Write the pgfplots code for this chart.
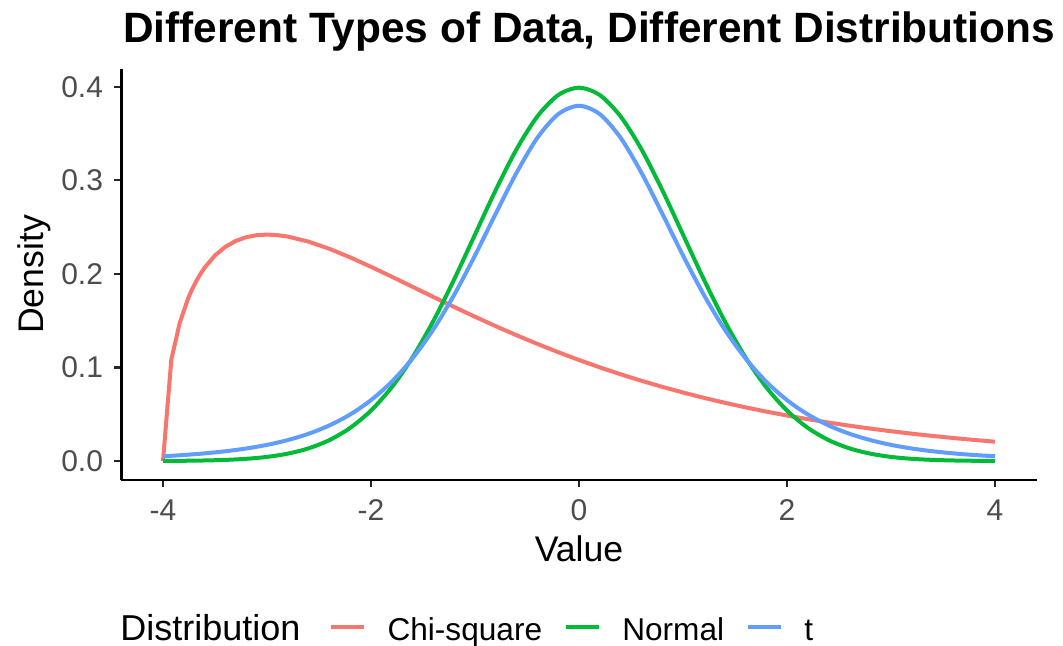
\documentclass[border=0pt]{standalone}
\usepackage{pgfplots}
\pgfplotsset{compat=1.18}
\usepackage{fontspec}
\setmainfont{Liberation Sans}
\definecolor{chisq}{HTML}{F8766D}
\definecolor{normal}{HTML}{00BA38}
\definecolor{tdist}{HTML}{619CFF}
\definecolor{ticktext}{HTML}{4D4D4D}

\begin{document}
\begin{tikzpicture}
\path[use as bounding box] (0,0) rectangle (531.5pt,-322.5pt);
\clip (0,0) rectangle (531.5pt,-322.5pt);
\node[anchor=base west, inner sep=0pt, font=\fontsize{21.2}{25}\selectfont\bfseries]
  at (61.3pt,-21pt) {Different Types of Data, Different Distributions};
\begin{axis}[
  at={(60.7pt,-239.85pt)}, anchor=south west,
  scale only axis, width=457.6pt, height=205.35pt,
  xmin=-4.4, xmax=4.4, ymin=-0.01995, ymax=0.41889,
  axis x line=bottom, axis y line=left,
  axis line style={-, line width=1.1pt, black},
  xtick={-4,-2,0,2,4}, ytick={0,0.1,0.2,0.3,0.4},
  tick align=outside, major tick length=3.5pt,
  tick style={line width=1.1pt, black!85},
  /pgf/number format/assume math mode=true,
  yticklabel style={/pgf/number format/fixed, /pgf/number format/fixed zerofill,
    /pgf/number format/precision=1},
  ticklabel style={font=\fontsize{15}{17}\selectfont, text=ticktext, inner sep=0pt},
  xticklabel style={anchor=base, yshift=-17pt},
  yticklabel style={anchor=east, xshift=-5.5pt},
  xlabel={Value}, ylabel={Density},
  label style={font=\fontsize{17.8}{20}\selectfont, inner sep=0pt},
  xlabel style={at={(axis description cs:0.5,0)}, anchor=base, yshift=-41pt},
  ylabel style={at={(axis description cs:-0.08566,0.5)}, anchor=base},
  legend columns=-1, legend cell align=left,
  legend style={at={(axis description cs:0.2268,-0.3706)}, anchor=west,
    draw=none, fill=none, inner sep=0pt, outer sep=0pt, column sep=10.8pt,
    nodes={inner sep=0pt, font=\fontsize{15.8}{18}\selectfont, text=black,
      text height=11.5pt, text depth=3.4pt}},
  legend image code/.code={\draw[#1] (0pt,2.3pt) -- (16.5pt,2.3pt);},
  every axis plot/.append style={line width=2pt, line join=round},
]
\addplot[chisq] coordinates {
(-4,0) (-3.92,0.10841) (-3.84,0.14731) (-3.76,0.17334) (-3.72,0.18352) (-3.68,0.19231)
(-3.64,0.19993) (-3.6,0.20658) (-3.5,0.21970) (-3.4,0.22893) (-3.3,0.23521) (-3.2,0.23919)
(-3.1,0.24132) (-3,0.24197) (-2.9,0.24140) (-2.8,0.23984) (-2.6,0.23441) (-2.4,0.22674)
(-2.2,0.21761) (-2,0.20755) (-1.8,0.19697) (-1.6,0.18615) (-1.4,0.17531) (-1.2,0.16462)
(-1,0.15418) (-0.8,0.14408) (-0.6,0.13438) (-0.4,0.12512) (-0.2,0.11632) (0,0.10798)
(0.2,0.10012) (0.4,0.09272) (0.6,0.08579) (0.8,0.07929) (1,0.07323) (1.2,0.06757)
(1.4,0.06230) (1.6,0.05741) (1.8,0.05286) (2,0.04865) (2.2,0.04475) (2.4,0.04114)
(2.6,0.03780) (2.8,0.03472) (3,0.03187) (3.2,0.02925) (3.4,0.02683) (3.6,0.02460)
(3.8,0.02255) (4,0.02067)
};
\addlegendentry{Chi-square}
\addplot[normal, smooth] coordinates {
(-4,0.00013) (-3.8,0.00029) (-3.6,0.00061) (-3.4,0.00123) (-3.2,0.00238) (-3,0.00443)
(-2.8,0.00792) (-2.6,0.01358) (-2.4,0.02239) (-2.2,0.03547) (-2,0.05399) (-1.8,0.07895)
(-1.6,0.11092) (-1.4,0.14973) (-1.2,0.19419) (-1,0.24197) (-0.8,0.28969) (-0.6,0.33322)
(-0.4,0.36827) (-0.2,0.39104) (0,0.39894)
(0.2,0.39104) (0.4,0.36827) (0.6,0.33322) (0.8,0.28969) (1,0.24197) (1.2,0.19419)
(1.4,0.14973) (1.6,0.11092) (1.8,0.07895) (2,0.05399) (2.2,0.03547) (2.4,0.02239)
(2.6,0.01358) (2.8,0.00792) (3,0.00443) (3.2,0.00238) (3.4,0.00123) (3.6,0.00061)
(3.8,0.00029) (4,0.00013)
};
\addlegendentry{Normal}
\addplot[tdist, smooth] coordinates {
(-4,0.00512) (-3.8,0.00646) (-3.6,0.00819) (-3.4,0.01045) (-3.2,0.01341) (-3,0.01729)
(-2.8,0.02242) (-2.6,0.02918) (-2.4,0.03809) (-2.2,0.04980) (-2,0.06509) (-1.8,0.08481)
(-1.6,0.10982) (-1.4,0.14074) (-1.2,0.17766) (-1,0.21968) (-0.8,0.26449) (-0.6,0.30814)
(-0.4,0.34538) (-0.2,0.37064) (0,0.37961)
(0.2,0.37064) (0.4,0.34538) (0.6,0.30814) (0.8,0.26449) (1,0.21968) (1.2,0.17766)
(1.4,0.14074) (1.6,0.10982) (1.8,0.08481) (2,0.06509) (2.2,0.04980) (2.4,0.03809)
(2.6,0.02918) (2.8,0.02242) (3,0.01729) (3.2,0.01341) (3.4,0.01045) (3.6,0.00819)
(3.8,0.00646) (4,0.00512)
};
\addlegendentry{t}
\end{axis}
\node[anchor=base west, inner sep=0pt, font=\fontsize{18}{20}\selectfont]
  at (60pt,-320pt) {Distribution};
\end{tikzpicture}
\end{document}
